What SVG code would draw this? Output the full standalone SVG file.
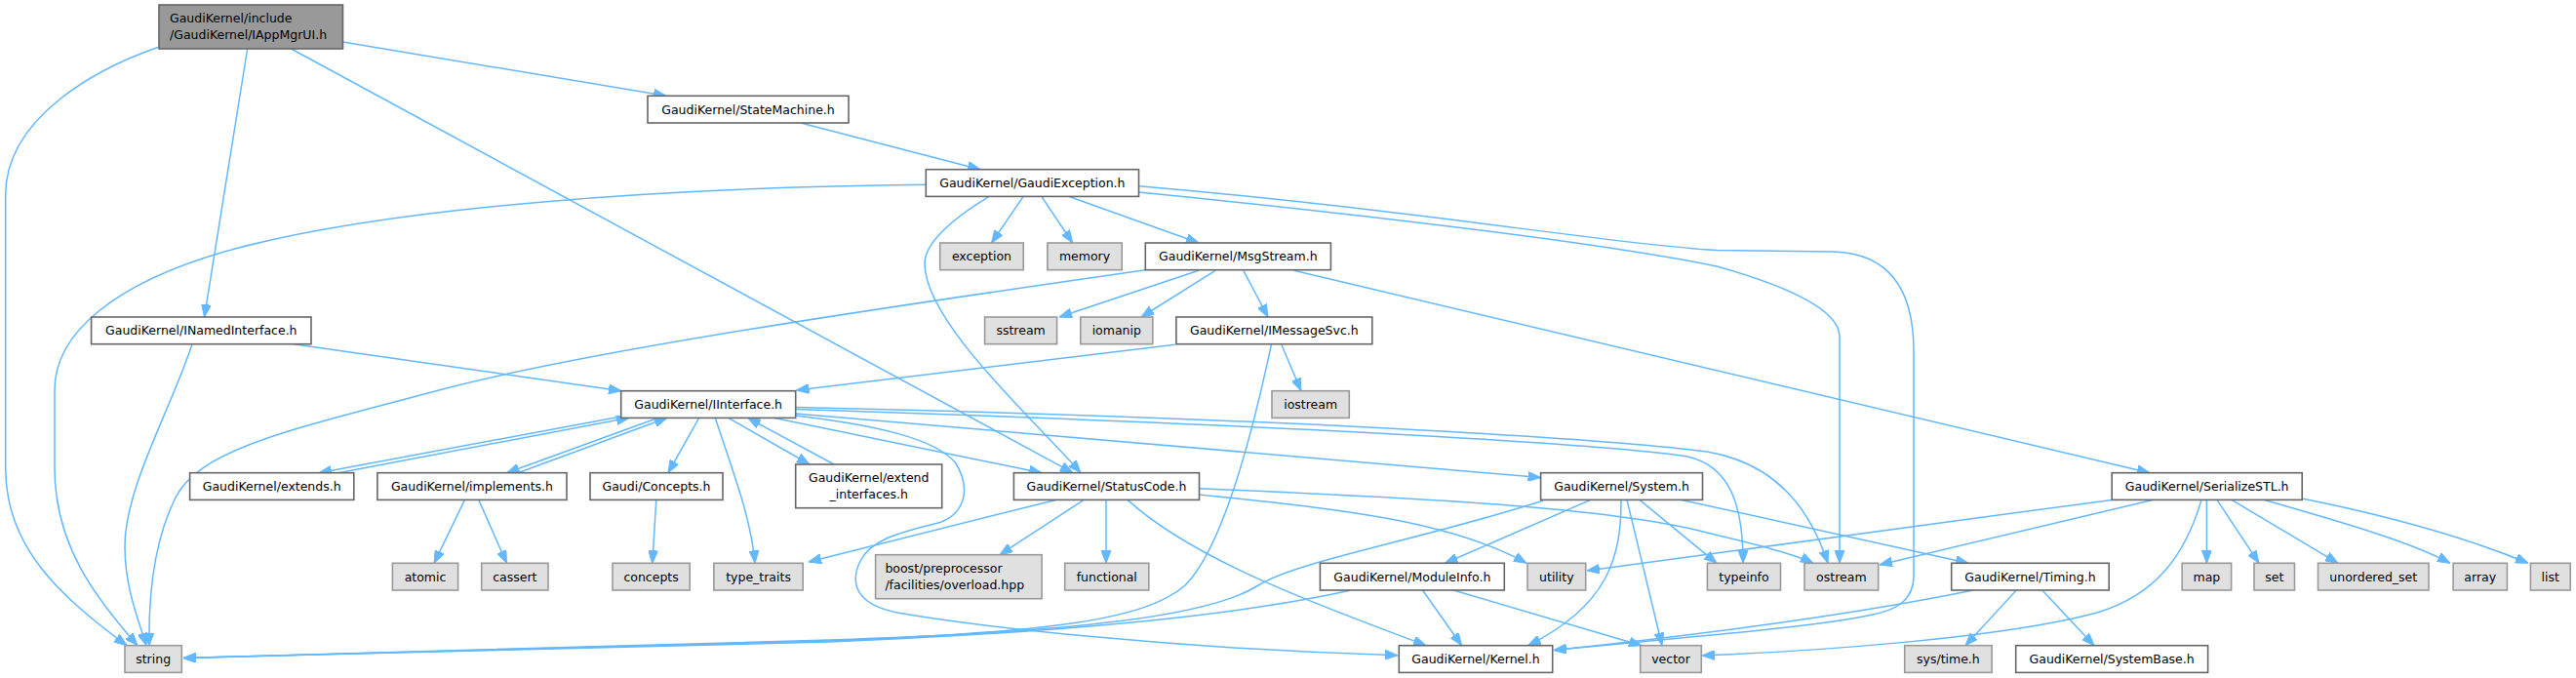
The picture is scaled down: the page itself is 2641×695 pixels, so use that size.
<svg xmlns="http://www.w3.org/2000/svg" width="2641" height="695" viewBox="0 0 2641 695">
<style>
.node rect{stroke-width:1.6}
.w rect{fill:#ffffff;stroke:#666666}
.x rect{fill:#e0e0e0;stroke:#999999}
.m rect{fill:#999999;stroke:#666666}
text{font-family:"DejaVu Sans","Liberation Sans",sans-serif;font-size:12.5px;fill:#000000;text-anchor:middle}
text.l{text-anchor:start}
#edges path{fill:none;stroke:#63b8ff;stroke-width:1.5;marker-end:url(#arr)}
</style>
<defs>
<marker id="arr" markerUnits="userSpaceOnUse" markerWidth="13" markerHeight="10" refX="13" refY="5" orient="auto">
<path d="M0,0 L13,5 L0,10 z" fill="#63b8ff" stroke="#63b8ff" stroke-width="1"/>
</marker>
</defs>
<rect x="0" y="0" width="2641" height="695" fill="#ffffff"/>
<g id="edges">
<path d="M351.5,43 L683,98.3"/>
<path d="M253.7,50 L209.5,325"/>
<path d="M298.5,50 L1100,484.7"/>
<path d="M162.5,48.3 C100,70 5.7,120 5.7,200 L5.7,480 C5.7,560 60,610 130,661.7"/>
<path d="M821,126 L1005,173.7"/>
<path d="M949.3,189.3 C700,192 400,210 230,258 C120,290 56,340 56,400 L56,480 C56,560 100,615 141,661.7"/>
<path d="M197,352.7 C175,420 128,500 128,560 C128,600 140,630 150,661.7"/>
<path d="M1174.3,276.7 C900,316 600,360 450,400 C300,440 205,460 180,510 C160,550 152,600 153,661.7"/>
<path d="M1303.5,352.7 C1285,440 1255,560 1215,600 C1175,635 1080,648 850,657 C600,665 350,672 188.3,674.5"/>
<path d="M1582,513.3 C1450,555 1330,575 1290,600 C1240,632 1100,648 850,656 C600,664 350,672 188.3,674.5"/>
<path d="M1384,605.3 C1250,635 1050,650 850,658 C600,666 350,672 188.3,674.5"/>
<path d="M301,352.7 L637,400.7"/>
<path d="M1204.8,353.3 L816.5,400"/>
<path d="M1313.8,353.3 L1334,400.7"/>
<path d="M1228.9,277.3 L1086,325"/>
<path d="M1246,277.3 L1170,325"/>
<path d="M1274.8,277.3 L1300,325"/>
<path d="M1326.5,277.3 L2204,484.7"/>
<path d="M1049,201.7 L1016.5,249"/>
<path d="M1068,201.7 L1099.7,249"/>
<path d="M1096.8,201.7 L1229,249"/>
<path d="M1013.6,201.7 C975,225 948,250 948,270 C948,330 1060,430 1108,484.7"/>
<path d="M1167.5,197 C1400,220 1650,250 1760,273 C1840,295 1886,320 1886,345 L1886,577.3"/>
<path d="M1167.5,190.7 C1450,215 1650,250 1760,256.5 L1880,258 C1940,260 1962,300 1962,360 L1962,590 C1962,615 1945,625 1920,630 C1850,645 1700,655 1593,666.5"/>
<path d="M2022,605.3 C1900,630 1750,650 1593,666.5"/>
<path d="M793,428.3 L1068,484.7"/>
<path d="M815.7,424 L1579.6,489.5"/>
<path d="M815.7,419.5 C1300,435 1650,455 1730,468 C1775,478 1787,520 1787,577.3"/>
<path d="M815.7,417.5 C1300,428 1650,450 1750,463 C1820,475 1855,520 1874,577.3"/>
<path d="M815.7,426 C900,436 960,450 980,475 C995,500 990,525 965,535 C930,545 895,550 882,575 C870,600 880,620 920,628 C1000,642 1200,665 1433,671.7"/>
<path d="M636.7,427 L327,484.7"/>
<path d="M347,484.7 L645,428.3"/>
<path d="M675,428.3 L519.5,484.7"/>
<path d="M531,484.7 L684,428.3"/>
<path d="M746.7,428.3 L830,476"/>
<path d="M855,476 L766.7,428.3"/>
<path d="M716.7,428.3 L685,484.7"/>
<path d="M733.3,428.3 C750,480 770,530 774,577.3"/>
<path d="M672.8,512.4 L668.8,577.3"/>
<path d="M476.5,512.4 L445,577.3"/>
<path d="M490.8,512.4 L519.5,577.3"/>
<path d="M1082.5,512.4 L829,576"/>
<path d="M1111.2,512.4 L1025,568.7"/>
<path d="M1134,512.4 L1134,577.3"/>
<path d="M1156,512.4 C1230,580 1380,630 1462,661.7"/>
<path d="M1229.5,507 C1350,520 1480,530 1565,577.3"/>
<path d="M1229.5,500.7 C1450,510 1650,520 1750,546 C1800,558 1840,568 1859,577.3"/>
<path d="M1630.7,512.4 L1481.5,577.3"/>
<path d="M1662,512.4 C1662,570 1650,620 1566.7,661.7"/>
<path d="M1668,512.4 L1704,661.7"/>
<path d="M1681,512.4 L1760,577.3"/>
<path d="M1724,512.4 L2018,577.3"/>
<path d="M1458.5,605 L1498.6,661.7"/>
<path d="M1490,605 L1683,661.7"/>
<path d="M2165,512.4 L1627,585"/>
<path d="M2207,512.4 L1927,579"/>
<path d="M2257,512.4 C2240,570 2210,610 2150,628 C2050,655 1850,668 1745,672"/>
<path d="M2262.4,512.4 L2262.4,577.3"/>
<path d="M2273,512.4 L2316,577.3"/>
<path d="M2288,512.4 L2397,577.3"/>
<path d="M2321,512.4 C2400,535 2470,555 2512,577.3"/>
<path d="M2360,511 C2480,535 2550,560 2592,577.3"/>
<path d="M2067,605.3 L2015,661.7"/>
<path d="M2094,605.3 L2147,661.7"/>
</g>
<g id="n-main" class="node m"><rect x="163" y="5" width="188.5" height="45"/><text class="l" x="174" y="23">GaudiKernel/include</text><text class="l" x="174" y="40">/GaudiKernel/IAppMgrUI.h</text></g>
<g id="n-statemachine" class="node w"><rect x="664" y="98.3" width="206" height="27.7"/><text x="767" y="116.6">GaudiKernel/StateMachine.h</text></g>
<g id="n-gaudiexception" class="node w"><rect x="949.3" y="173.7" width="218.2" height="27.7"/><text x="1058.4" y="192">GaudiKernel/GaudiException.h</text></g>
<g id="n-exception" class="node x"><rect x="963.7" y="249" width="85.5" height="27.7"/><text x="1006.45" y="267.3">exception</text></g>
<g id="n-memory" class="node x"><rect x="1073.9" y="249" width="76.3" height="27.7"/><text x="1112.05" y="267.3">memory</text></g>
<g id="n-msgstream" class="node w"><rect x="1174.3" y="249" width="190.1" height="27.7"/><text x="1269.35" y="267.3">GaudiKernel/MsgStream.h</text></g>
<g id="n-inamedinterface" class="node w"><rect x="93.6" y="325" width="225.4" height="27.7"/><text x="206.3" y="343.3">GaudiKernel/INamedInterface.h</text></g>
<g id="n-sstream" class="node x"><rect x="1009.6" y="325" width="74" height="27.7"/><text x="1046.6" y="343.3">sstream</text></g>
<g id="n-iomanip" class="node x"><rect x="1107.8" y="325" width="74" height="27.7"/><text x="1144.8" y="343.3">iomanip</text></g>
<g id="n-imessagesvc" class="node w"><rect x="1205.9" y="325" width="200.9" height="27.7"/><text x="1306.35" y="343.3">GaudiKernel/IMessageSvc.h</text></g>
<g id="n-iinterface" class="node w"><rect x="636.7" y="400.7" width="179" height="27.7"/><text x="726.2" y="419">GaudiKernel/IInterface.h</text></g>
<g id="n-iostream" class="node x"><rect x="1304" y="400.7" width="79.3" height="27.7"/><text x="1343.65" y="419">iostream</text></g>
<g id="n-extends" class="node w"><rect x="194.6" y="484.7" width="168.2" height="27.7"/><text x="278.7" y="503">GaudiKernel/extends.h</text></g>
<g id="n-implements" class="node w"><rect x="386.9" y="484.7" width="194.1" height="27.7"/><text x="483.95" y="503">GaudiKernel/implements.h</text></g>
<g id="n-concepts-h" class="node w"><rect x="605" y="484.7" width="136" height="27.7"/><text x="673" y="503">Gaudi/Concepts.h</text></g>
<g id="n-extend-interfaces" class="node w"><rect x="815.7" y="476" width="150" height="44.7"/><text x="890.7" y="493.8">GaudiKernel/extend</text><text x="890.7" y="510.8">_interfaces.h</text></g>
<g id="n-statuscode" class="node w"><rect x="1039.4" y="484.7" width="190.1" height="27.7"/><text x="1134.45" y="503">GaudiKernel/StatusCode.h</text></g>
<g id="n-system" class="node w"><rect x="1579.6" y="484.7" width="165.9" height="27.7"/><text x="1662.55" y="503">GaudiKernel/System.h</text></g>
<g id="n-serializestl" class="node w"><rect x="2165.2" y="484.7" width="195" height="27.7"/><text x="2262.7" y="503">GaudiKernel/SerializeSTL.h</text></g>
<g id="n-atomic" class="node x"><rect x="402.4" y="577.3" width="67.2" height="27.7"/><text x="436" y="595.6">atomic</text></g>
<g id="n-cassert" class="node x"><rect x="493.7" y="577.3" width="68.3" height="27.7"/><text x="527.85" y="595.6">cassert</text></g>
<g id="n-concepts" class="node x"><rect x="628" y="577.3" width="79.2" height="27.7"/><text x="667.6" y="595.6">concepts</text></g>
<g id="n-type-traits" class="node x"><rect x="731.9" y="577.3" width="91.3" height="27.7"/><text x="777.55" y="595.6">type_traits</text></g>
<g id="n-boost" class="node x"><rect x="897.6" y="568.7" width="170.5" height="45"/><text class="l" x="907.4" y="587.2">boost/preprocessor</text><text class="l" x="907.4" y="604.2">/facilities/overload.hpp</text></g>
<g id="n-functional" class="node x"><rect x="1091.7" y="577.3" width="86.1" height="27.7"/><text x="1134.75" y="595.6">functional</text></g>
<g id="n-moduleinfo" class="node w"><rect x="1353.4" y="577.3" width="188.9" height="27.7"/><text x="1447.85" y="595.6">GaudiKernel/ModuleInfo.h</text></g>
<g id="n-utility" class="node x"><rect x="1566" y="577.3" width="59.7" height="27.7"/><text x="1595.85" y="595.6">utility</text></g>
<g id="n-typeinfo" class="node x"><rect x="1750.4" y="577.3" width="75.1" height="27.7"/><text x="1787.95" y="595.6">typeinfo</text></g>
<g id="n-ostream" class="node x"><rect x="1850" y="577.3" width="75.7" height="27.7"/><text x="1887.85" y="595.6">ostream</text></g>
<g id="n-timing" class="node w"><rect x="2000.7" y="577.3" width="161.5" height="27.7"/><text x="2081.45" y="595.6">GaudiKernel/Timing.h</text></g>
<g id="n-map" class="node x"><rect x="2237.2" y="577.3" width="50.4" height="27.7"/><text x="2262.4" y="595.6">map</text></g>
<g id="n-set" class="node x"><rect x="2311" y="577.3" width="41.5" height="27.7"/><text x="2331.75" y="595.6">set</text></g>
<g id="n-unordered-set" class="node x"><rect x="2376.5" y="577.3" width="113.5" height="27.7"/><text x="2433.25" y="595.6">unordered_set</text></g>
<g id="n-array" class="node x"><rect x="2515.1" y="577.3" width="55.3" height="27.7"/><text x="2542.75" y="595.6">array</text></g>
<g id="n-list" class="node x"><rect x="2594.4" y="577.3" width="40.8" height="27.7"/><text x="2614.8" y="595.6">list</text></g>
<g id="n-string" class="node x"><rect x="128" y="661.7" width="58.3" height="27.7"/><text x="157.15" y="680">string</text></g>
<g id="n-kernel" class="node w"><rect x="1434.3" y="661.7" width="157.4" height="27.7"/><text x="1513" y="680">GaudiKernel/Kernel.h</text></g>
<g id="n-vector" class="node x"><rect x="1681.7" y="661.7" width="62.6" height="27.7"/><text x="1713" y="680">vector</text></g>
<g id="n-systime" class="node x"><rect x="1952.7" y="661.7" width="89.4" height="27.7"/><text x="1997.4" y="680">sys/time.h</text></g>
<g id="n-systembase" class="node w"><rect x="2066.7" y="661.7" width="196.9" height="27.7"/><text x="2165.15" y="680">GaudiKernel/SystemBase.h</text></g>
</svg>
